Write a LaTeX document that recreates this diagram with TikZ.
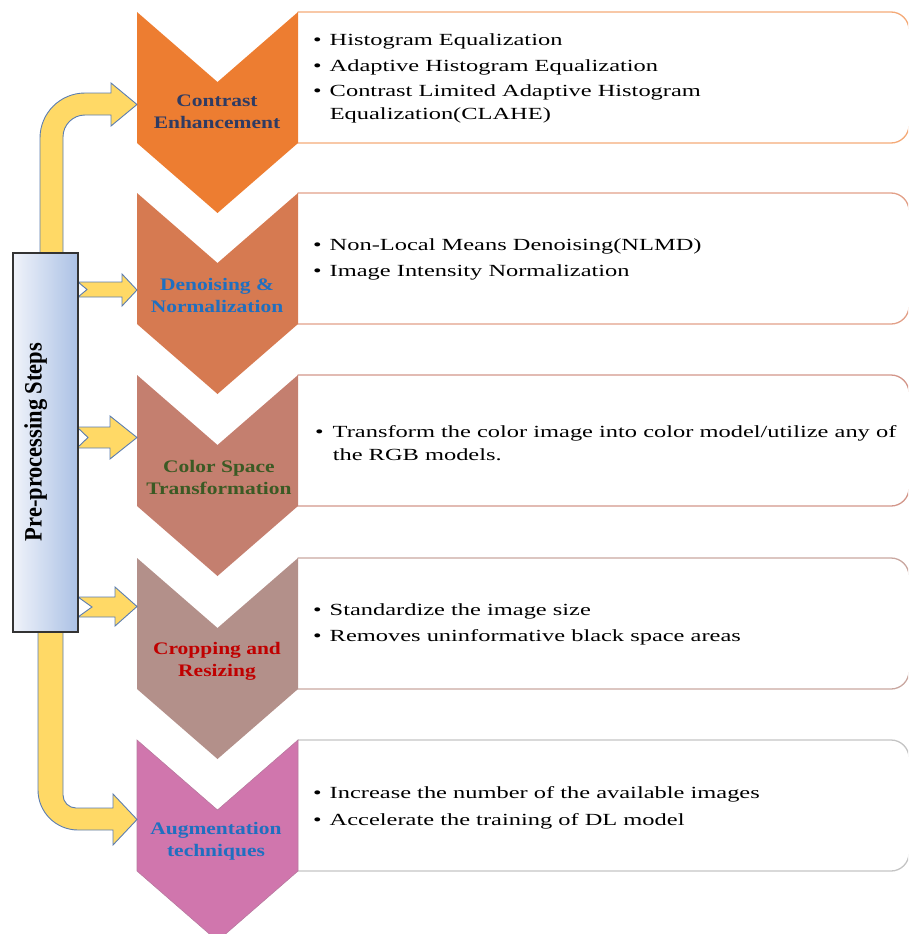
\documentclass[tikz,border=0pt]{standalone}
\usepackage{fontspec}
\setmainfont{Liberation Serif}
\newfontfamily\bodyf[FakeStretch=1.437]{Liberation Serif}
\newfontfamily\labf[FakeStretch=1.22]{Liberation Serif}
\newfontfamily\vertf[FakeStretch=0.9]{Liberation Serif}
\definecolor{ch1}{HTML}{ED7D31}
\definecolor{ch2}{HTML}{D67A51}
\definecolor{ch3}{HTML}{C47F6F}
\definecolor{ch4}{HTML}{B3908A}
\definecolor{ch5}{HTML}{D076AD}
\definecolor{bx1}{HTML}{F4AA78}
\definecolor{bx2}{HTML}{E2A088}
\definecolor{bx3}{HTML}{D3968A}
\definecolor{bx4}{HTML}{C9A7A0}
\definecolor{bx5}{HTML}{C4C4C4}
\definecolor{l1}{HTML}{2F3B63}
\definecolor{l2}{HTML}{1F6FC0}
\definecolor{l3}{HTML}{3B5A24}
\definecolor{l4}{HTML}{C00000}
\definecolor{l5}{HTML}{1F6FC0}
\definecolor{yel}{HTML}{FFD966}
\definecolor{yedge}{HTML}{5B7DB1}
\definecolor{barL}{HTML}{F0F3FA}
\definecolor{barR}{HTML}{ABC1E5}
\begin{document}
\begin{tikzpicture}[x=1pt,y=-1pt,
  yarrow/.style={fill=yel, draw=yedge, line width=0.9pt, line join=miter},
  boxline/.style={line width=1.3pt},
  barbox/.style={draw=black!80, line width=1.2pt, left color=barL, right color=barR,
    minimum width=65pt, minimum height=379pt, inner sep=0pt},
  bul/.style={anchor=base west, inner sep=0pt, text=black,
    font=\bodyf\fontsize{17}{26}\selectfont},
  lab/.style={anchor=base, inner sep=0pt, font=\labf\bfseries\fontsize{17.6}{22}\selectfont},
  vlab/.style={anchor=base, inner sep=0pt, rotate=90, text=black,
    font=\vertf\bfseries\fontsize{25}{27}\selectfont}]
\useasboundingbox (0,0) rectangle (908,934);
\clip (0,0) rectangle (908,934);

% boxes and chevrons
\foreach \y/\c/\b in {12/ch1/bx1, 193/ch2/bx2, 375/ch3/bx3, 558/ch4/bx4, 740/ch5/bx5}{
  \draw[boxline, draw=\b] (297.5,\y) -- (891,\y) arc(-90:0:18) -- (909,\y+113) arc(0:90:18) -- (290,\y+131);
  \fill[\c] (137,\y) -- (217.5,\y+70) -- (298,\y) -- (298,\y+131) -- (217.5,\y+201) -- (137,\y+131) -- cycle;
}
\draw[ch5!70!gray, line width=0.6pt] (137,740) -- (217.5,810) -- (298,740) -- (298,871) -- (217.5,941) -- (137,871) -- cycle;

% yellow arrows
\draw[yarrow] (40,253) -- (40,138) arc(180:270:45) -- (111,93) -- (111,83) -- (137,104.5)
  -- (111,126) -- (111,115) -- (85,115) arc(270:180:22) -- (63,253) -- cycle;
\draw[yarrow] (38,632) -- (38,790) arc(180:90:40) -- (113,830) -- (113,845) -- (137,819.5)
  -- (113,794) -- (113,808) -- (76,808) arc(90:180:13) -- (63,632) -- cycle;
\draw[yarrow] (78,282) -- (122,282) -- (122,274) -- (137,290) -- (122,306) -- (122,297)
  -- (78,297) -- (87,289.5) -- cycle;
\draw[yarrow] (77,427) -- (110,427) -- (110,416) -- (137,437.5) -- (110,459) -- (110,448)
  -- (77,448) -- (88,437.5) -- cycle;
\draw[yarrow] (78,597) -- (115,597) -- (115,587) -- (137,606.5) -- (115,626) -- (115,617)
  -- (78,617) -- (92,607) -- cycle;

% left bar
\node[barbox] (bar) at (45.5,442.5) {};
\node[vlab] (barlab) at (41.5,442) {Pre-processing Steps};

% chevron labels
\node[lab, text=l1] (c1) at (217,106) {\begin{tabular}[t]{@{}c@{}}Contrast\\Enhancement\end{tabular}};
\node[lab, text=l2] (c2) at (217,290) {\begin{tabular}[t]{@{}c@{}}Denoising \&\\Normalization\end{tabular}};
\node[lab, text=l3] (c3) at (219,472) {\begin{tabular}[t]{@{}c@{}}Color Space\\Transformation\end{tabular}};
\node[lab, text=l4] (c4) at (217,654) {\begin{tabular}[t]{@{}c@{}}Cropping and\\Resizing\end{tabular}};
\node[lab, text=l5] (c5) at (216,834) {\begin{tabular}[t]{@{}c@{}}Augmentation\\techniques\end{tabular}};

% bullet texts
\node[bul] (t1) at (313,46) {\begin{tabular}[t]{@{}l@{\hspace{8pt}}l@{}}
\textbullet & Histogram Equalization\\[-0.5pt]
\textbullet & Adaptive Histogram Equalization\\[-1pt]
\textbullet & Contrast Limited Adaptive Histogram\\[-3pt]
 & Equalization(CLAHE)\end{tabular}};
\node[bul] (t2) at (313,250) {\begin{tabular}[t]{@{}l@{\hspace{8pt}}l@{}}
\textbullet & Non-Local Means Denoising(NLMD)\\
\textbullet & Image Intensity Normalization\end{tabular}};
\node[bul] (t3) at (315,437) {\begin{tabular}[t]{@{}l@{\hspace{9pt}}l@{}}
\textbullet & Transform the color image into color model/utilize any of\\[-3pt]
 & the RGB models.\end{tabular}};
\node[bul] (t4) at (313,615) {\begin{tabular}[t]{@{}l@{\hspace{8pt}}l@{}}
\textbullet & Standardize the image size\\
\textbullet & Removes uninformative black space areas\end{tabular}};
\node[bul] (t5) at (313,798) {\begin{tabular}[t]{@{}l@{\hspace{8pt}}l@{}}
\textbullet & Increase the number of the available images\\[1pt]
\textbullet & Accelerate the training of DL model\end{tabular}};
\end{tikzpicture}
\end{document}
